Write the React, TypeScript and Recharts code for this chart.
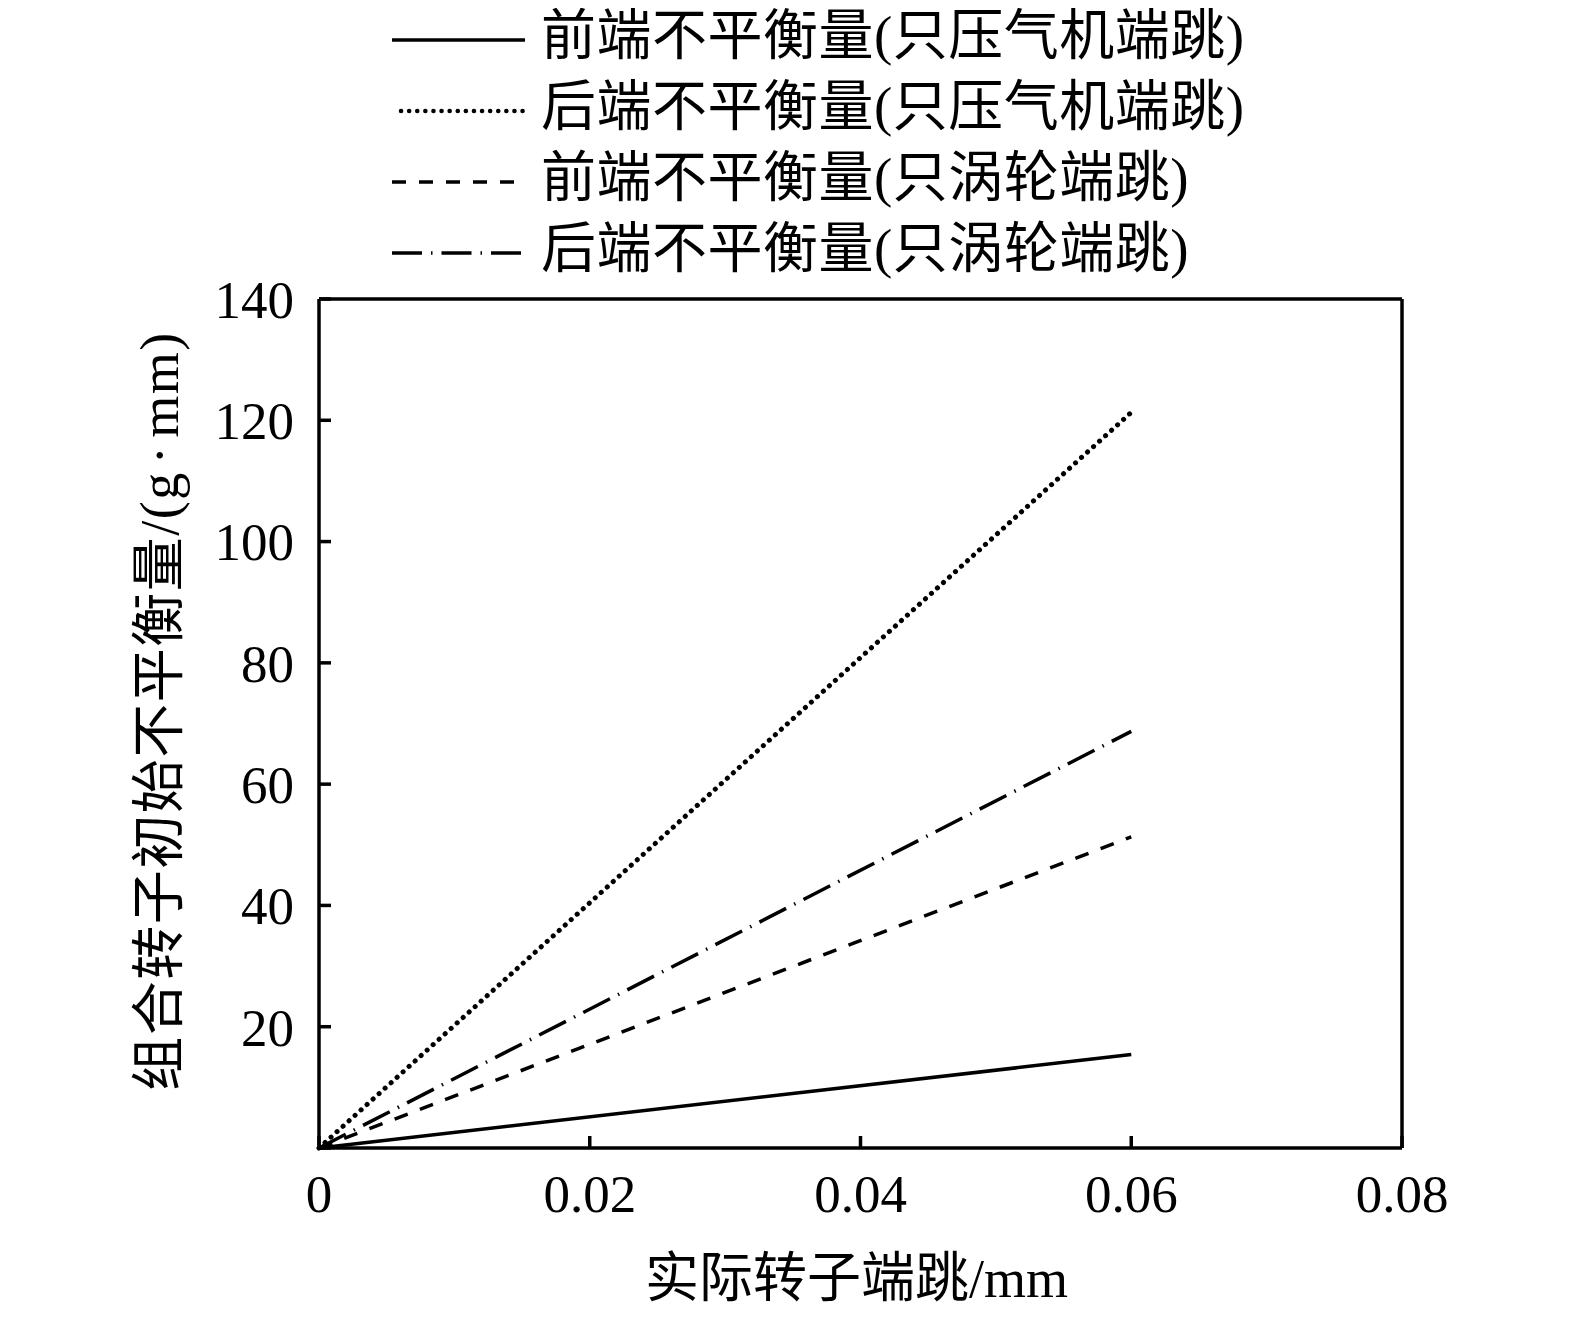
import React from 'react';
import { LineChart, Line, XAxis, YAxis, Label, ReferenceLine } from 'recharts';

const xValues = [0, 0.06];
const frontCompressor = [0, 15.4];
const rearCompressor = [0, 121.3];
const frontTurbine = [0, 51.3];
const rearTurbine = [0, 68.7];

const xTicks = [0, 0.02, 0.04, 0.06, 0.08];
const yTicks = [0, 20, 40, 60, 80, 100, 120, 140];

const seriesKeys = ['fc', 'rc', 'ft', 'rt'];
const seriesNames = [
  '前端不平衡量(只压气机端跳)',
  '后端不平衡量(只压气机端跳)',
  '前端不平衡量(只涡轮端跳)',
  '后端不平衡量(只涡轮端跳)',
];
const seriesDash = ['', '0.1 8', '14 13', '30 9 1.5 9'];
const seriesWidth = [3.5, 5, 3.5, 3.5];
const seriesCap: ('butt' | 'round')[] = ['butt', 'round', 'butt', 'butt'];

const xLabel = '实际转子端跳/mm';
const yLabelMain = '组合转子初始不平衡量/(g';
const yLabelDot = '·';
const yLabelTail = 'mm)';

const data = xValues.map((x, i) => ({
  x,
  fc: frontCompressor[i],
  rc: rearCompressor[i],
  ft: frontTurbine[i],
  rt: rearTurbine[i],
}));

const FONT = "'Liberation Serif', 'Noto Sans CJK SC', serif";
const W = 1560;
const H = 1310;

const Legend = () => (
  <svg
    width={W}
    height={H}
    style={{ position: 'absolute', left: 0, top: 0, pointerEvents: 'none' }}
  >
    {seriesNames.map((name, i) => {
      const y = 32 + i * 71;
      return (
        <g key={name}>
          <line
            x1={i === 1 ? 393 : 384}
            x2={517}
            y1={y}
            y2={y}
            stroke="#000"
            strokeWidth={i === 1 ? 4.5 : 3.5}
            strokeDasharray={seriesDash[i] || undefined}
            strokeLinecap={seriesCap[i]}
          />
          <text
            x={533}
            y={y + 14}
            fontFamily={FONT}
            fontSize={55}
            letterSpacing={0.5}
            fill="#000"
          >
            {name}
          </text>
        </g>
      );
    })}
  </svg>
);

const frame = { stroke: '#000', strokeWidth: 3.5 };

export default function App() {
  return (
    <div style={{ position: 'relative', width: W, height: H, background: '#fff' }}>
      <LineChart
        width={W}
        height={H}
        data={data}
        margin={{ top: 291, right: 166, left: 211, bottom: 70 }}
      >
        <XAxis
          dataKey="x"
          type="number"
          domain={[0, 0.08]}
          ticks={xTicks}
          interval={0}
          tickFormatter={(v: number) => (v === 0 ? '0' : v.toFixed(2))}
          height={100}
          axisLine={frame}
          tickLine={frame}
          tickSize={-12}
          tickMargin={38}
          tick={{ fill: '#000', fontSize: 53, fontFamily: FONT }}
        >
          <Label
            content={(props: any) => {
              const vb = props.viewBox || {};
              const cx = (vb.x ?? 311) + (vb.width ?? 1083) / 2 - 4;
              return (
                <text
                  x={cx}
                  y={1289}
                  textAnchor="middle"
                  fontFamily={FONT}
                  fontSize={54}
                  fill="#000"
                >
                  {xLabel}
                </text>
              );
            }}
          />
        </XAxis>
        <YAxis
          type="number"
          domain={[0, 140]}
          ticks={yTicks}
          interval={0}
          tickFormatter={(v: number) => (v === 0 ? '' : String(v))}
          width={100}
          axisLine={frame}
          tickLine={frame}
          tickSize={-12}
          tickMargin={37}
          tick={{ fill: '#000', fontSize: 53, fontFamily: FONT }}
        >
          <Label
            content={() => {
              const cx = 152;
              const cy = 703;
              return (
                <text
                  x={cx}
                  y={cy}
                  textAnchor="middle"
                  dominantBaseline="central"
                  transform={`rotate(-90, ${cx}, ${cy})`}
                  fontFamily={FONT}
                  fontSize={54}
                  letterSpacing={1.5}
                  fill="#000"
                >
                  {yLabelMain}
                  <tspan dx={7}>{yLabelDot}</tspan>
                  <tspan dx={7}>{yLabelTail}</tspan>
                </text>
              );
            }}
          />
        </YAxis>
        <ReferenceLine y={140} {...frame} ifOverflow="extendDomain" />
        <ReferenceLine x={0.08} {...frame} ifOverflow="extendDomain" />
        {seriesKeys.map((k, i) => (
          <Line
            key={k}
            dataKey={k}
            name={seriesNames[i]}
            type="linear"
            stroke="#000"
            strokeWidth={seriesWidth[i]}
            strokeDasharray={seriesDash[i] || undefined}
            strokeLinecap={seriesCap[i]}
            dot={false}
            activeDot={false}
            isAnimationActive={false}
          />
        ))}
      </LineChart>
      <Legend />
    </div>
  );
}
